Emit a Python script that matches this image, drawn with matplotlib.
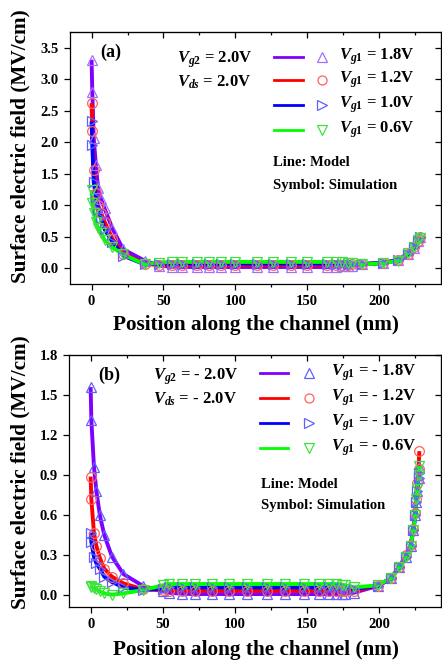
import matplotlib
matplotlib.use("Agg")
import matplotlib.pyplot as plt
from matplotlib.lines import Line2D
from matplotlib.ticker import MultipleLocator

plt.rcParams['font.family'] = 'serif'
plt.rcParams['font.serif'] = ['Liberation Serif', 'DejaVu Serif']
plt.rcParams['font.weight'] = 'bold'
plt.rcParams['mathtext.fontset'] = 'custom'
plt.rcParams['mathtext.it'] = 'Liberation Serif:italic:bold'
plt.rcParams['mathtext.rm'] = 'Liberation Serif:bold'

W, H = 442, 667

# ---- panel (a): Vg2 = Vds = 2.0 V ----
xa = [0, 0.5, 1.5, 3, 4.5, 6.5, 9, 14.5, 22, 37, 47, 56, 63, 73, 82, 90, 100,
      115, 126, 139, 150, 164, 170, 174, 178, 181, 188, 203, 213, 220, 224, 227, 228.5]
purple_a = [3.31, 2.80, 2.06, 1.64, 1.27, 1.10, 0.95, 0.63, 0.30, 0.12, 0.04, 0.025, 0.02,
            0.02, 0.02, 0.02, 0.02, 0.02, 0.02, 0.02, 0.02, 0.02, 0.025, 0.03, 0.035, 0.04,
            0.06, 0.08, 0.13, 0.22, 0.32, 0.43, 0.50]
red_a = [2.62, 2.18, 1.56, 1.20, 1.00, 0.88, 0.74, 0.47, 0.23, 0.07, 0.05, 0.05, 0.05,
         0.05, 0.05, 0.05, 0.05, 0.05, 0.05, 0.05, 0.05, 0.05, 0.05, 0.05, 0.055, 0.06,
         0.065, 0.085, 0.13, 0.23, 0.33, 0.44, 0.50]
blue_a = [2.33, 1.96, 1.37, 1.13, 0.92, 0.80, 0.62, 0.42, 0.20, 0.06, 0.075, 0.075, 0.075,
          0.075, 0.075, 0.075, 0.075, 0.075, 0.075, 0.075, 0.075, 0.075, 0.075, 0.07, 0.07,
          0.07, 0.07, 0.085, 0.13, 0.23, 0.33, 0.44, 0.49]
green_a = [1.24, 1.03, 0.88, 0.74, 0.64, 0.56, 0.45, 0.33, 0.22, 0.06, 0.09, 0.10, 0.10,
           0.10, 0.10, 0.10, 0.10, 0.10, 0.10, 0.10, 0.10, 0.10, 0.10, 0.095, 0.09, 0.085,
           0.06, 0.08, 0.12, 0.24, 0.34, 0.45, 0.48]
labels_a = ['1.8V', '1.2V', '1.0V', '0.6V']

# ---- panel (b): Vg2 = Vds = -2.0 V ----
xb = [0, 0.5, 2.3, 4, 6.4, 9.5, 14.8, 22.7, 36.4, 50, 54.5, 63.6, 72.7, 84, 96, 108.6,
      122, 134.7, 148, 158.6, 165.4, 170, 174.5, 176.6, 182.5, 199, 208.6, 213.8, 218.8,
      222, 223.8, 225.2, 225.7, 226.4, 227.4, 228]
purple_b = [1.56, 1.31, 0.965, 0.78, 0.60, 0.45, 0.29, 0.16, 0.07, 0.03, 0.02, 0.012, 0.01,
            0.01, 0.01, 0.01, 0.01, 0.01, 0.01, 0.01, 0.01, 0.01, 0.01, 0.012, 0.02, 0.07,
            0.13, 0.21, 0.29, 0.37, 0.49, 0.60, 0.70, 0.78, 0.88, 0.96]
red_b = [0.89, 0.72, 0.47, 0.37, 0.28, 0.20, 0.14, 0.09, 0.045, 0.04, 0.035, 0.035, 0.035,
         0.035, 0.035, 0.035, 0.035, 0.035, 0.035, 0.035, 0.035, 0.035, 0.035, 0.035, 0.035,
         0.07, 0.13, 0.21, 0.30, 0.38, 0.50, 0.62, 0.72, 0.84, 0.95, 1.08]
blue_b = [0.47, 0.40, 0.29, 0.24, 0.20, 0.14, 0.10, 0.06, 0.04, 0.05, 0.06, 0.06, 0.06,
          0.06, 0.06, 0.06, 0.06, 0.06, 0.06, 0.06, 0.06, 0.06, 0.06, 0.055, 0.05, 0.07,
          0.13, 0.21, 0.29, 0.37, 0.49, 0.60, 0.70, 0.78, 0.88, 0.92]
green_b = [0.07, 0.065, 0.055, 0.045, 0.03, 0.015, 0.005, 0.015, 0.04, 0.075, 0.085, 0.085,
           0.085, 0.085, 0.085, 0.085, 0.085, 0.085, 0.085, 0.085, 0.085, 0.085, 0.08, 0.075,
           0.06, 0.075, 0.13, 0.21, 0.29, 0.37, 0.49, 0.60, 0.72, 0.80, 0.90, 0.97]
labels_b = ['- 1.8V', '- 1.2V', '- 1.0V', '- 0.6V']

line_colors = ['#8000ff', '#ff0000', '#0000ff', '#00ff00']
marker_styles = ['^', 'o', '>', 'v']
marker_a = ['#a070ff', '#ff6060', '#6060ff', '#40e040']
marker_b = ['#6060ff', '#ff6060', '#6060ff', '#40e040']


def fx(x):
    return x / W


def fy(y):
    return 1 - y / H


def style_axes(ax, ylim, ystep):
    ax.set_xlim(-15, 243)
    ax.set_ylim(*ylim)
    ax.xaxis.set_major_locator(MultipleLocator(50))
    ax.xaxis.set_minor_locator(MultipleLocator(25))
    ax.yaxis.set_major_locator(MultipleLocator(ystep))
    ax.tick_params(which='both', direction='out', labelsize=10.5, width=0.9)
    ax.tick_params(which='major', length=4.5)
    ax.tick_params(which='minor', length=2.5)
    for sp in ax.spines.values():
        sp.set_linewidth(0.9)
    # mirrored ticks on top and right, pointing inward
    top = ax.secondary_xaxis('top')
    top.xaxis.set_major_locator(MultipleLocator(50))
    top.xaxis.set_minor_locator(MultipleLocator(25))
    top.tick_params(which='both', direction='in', labeltop=False, width=0.9)
    top.tick_params(which='major', length=4.5)
    top.tick_params(which='minor', length=2.5)
    right = ax.secondary_yaxis('right')
    right.yaxis.set_major_locator(MultipleLocator(ystep))
    right.tick_params(direction='in', labelright=False, length=4.5, width=0.9)
    for lab in ax.get_xticklabels() + ax.get_yticklabels():
        lab.set_fontweight('bold')


def draw_panel(ax, xs, series, mcolors):
    for i, ys in enumerate(series):
        ax.plot(xs, ys, color=line_colors[i], lw=2.8, solid_capstyle='butt', zorder=2 + i)
    for i, ys in enumerate(series):
        ax.plot(xs, ys, ls='none', marker=marker_styles[i], ms=7, mfc='none',
                mec=mcolors[i], mew=0.9, zorder=10)


def legend_block(fig, x_line, x_mark, x_text, rows, labels, mcolors):
    for i, y in enumerate(rows):
        fig.add_artist(Line2D([fx(x_line[0]), fx(x_line[1])], [fy(y), fy(y)],
                              color=line_colors[i], lw=2.0, transform=fig.transFigure))
        fig.add_artist(Line2D([fx(x_mark)], [fy(y)], ls='none', marker=marker_styles[i],
                              ms=6.5, mfc='none', mec=mcolors[i], mew=0.9,
                              transform=fig.transFigure))
        fig.text(fx(x_text), fy(y), r'$\mathit{V}_{\mathit{g1}}$ = ' + labels[i],
                 fontsize=12, fontweight='bold', va='center', ha='left')


fig = plt.figure(figsize=(W / 100, H / 100), dpi=100)

ax_a = fig.add_axes([fx(70), fy(284), (441 - 70) / W, (284 - 32) / H])
draw_panel(ax_a, xa, [purple_a, red_a, blue_a, green_a], marker_a)
style_axes(ax_a, (-0.25, 3.75), 0.5)

ax_b = fig.add_axes([fx(69), fy(607), (441 - 69) / W, (607 - 355) / H])
draw_panel(ax_b, xb, [purple_b, red_b, blue_b, green_b], marker_b)
style_axes(ax_b, (-0.087, 1.8), 0.3)

# axis titles
for yc in (146, 472):
    fig.text(fx(20), fy(yc), 'Surface electric field (MV/cm)', rotation=90,
             fontsize=15.3, fontweight='bold', ha='center', va='center')
for yc in (325, 650):
    fig.text(fx(256), fy(yc), 'Position along the channel (nm)',
             fontsize=15.3, fontweight='bold', ha='center', va='center')

# panel (a) annotations
fig.text(fx(100), fy(52), '(a)', fontsize=13, fontweight='bold', va='center')
fig.text(fx(177), fy(60), r'$\mathit{V}_{\mathit{g2}}$ = 2.0V', fontsize=12,
         fontweight='bold', va='center')
fig.text(fx(177), fy(82), r'$\mathit{V}_{\mathit{ds}}$ = 2.0V', fontsize=12,
         fontweight='bold', va='center')
legend_block(fig, (274, 303), 322, 339, [57, 80, 105, 130], labels_a, marker_a)
fig.text(fx(273), fy(163), 'Line: Model', fontsize=10.5, fontweight='bold', va='center')
fig.text(fx(273), fy(185), 'Symbol: Simulation', fontsize=10.5, fontweight='bold',
         va='center')

# panel (b) annotations
fig.text(fx(98), fy(375), '(b)', fontsize=13, fontweight='bold', va='center')
fig.text(fx(153), fy(377), r'$\mathit{V}_{\mathit{g2}}$ = - 2.0V', fontsize=12,
         fontweight='bold', va='center')
fig.text(fx(153), fy(399), r'$\mathit{V}_{\mathit{ds}}$ = - 2.0V', fontsize=12,
         fontweight='bold', va='center')
legend_block(fig, (260, 288), 309, 331, [373, 398, 423, 448], labels_b, marker_b)
fig.text(fx(261), fy(485), 'Line: Model', fontsize=10.5, fontweight='bold', va='center')
fig.text(fx(261), fy(505), 'Symbol: Simulation', fontsize=10.5, fontweight='bold',
         va='center')

fig.savefig('out.png', dpi=100)
